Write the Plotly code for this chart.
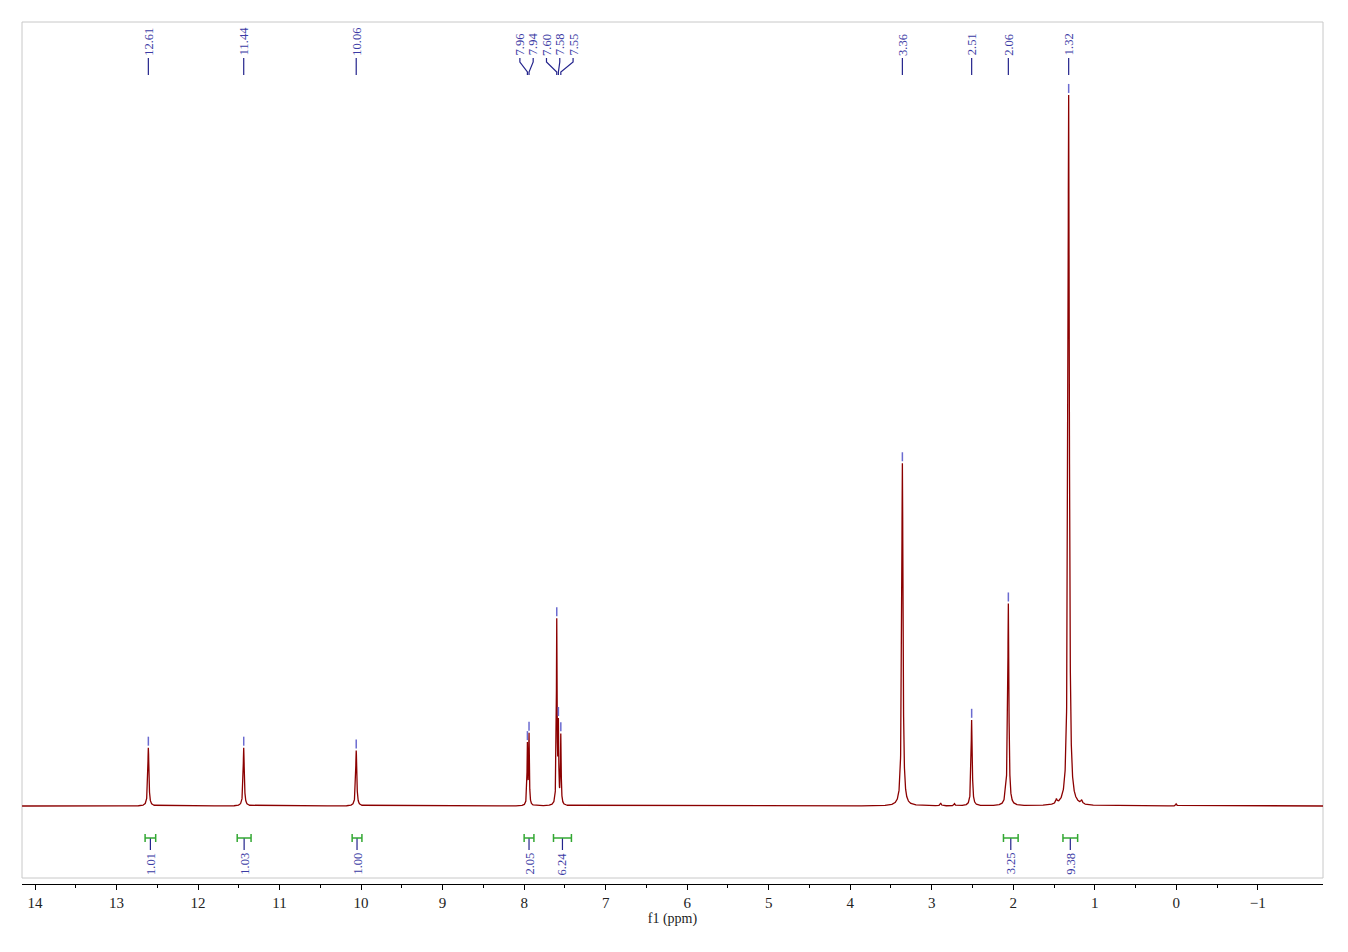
import numpy as np
import plotly.graph_objects as go

# ---------------- data ----------------
# peak list (ppm, relative height, half width at half max in ppm)
peak_ppm = [12.61, 11.44, 10.06, 7.96, 7.94, 7.60, 7.58, 7.55,
            3.36, 2.51, 2.09, 2.06, 1.32, 2.89, 2.72, 1.47, 1.16, 0.00]
peak_height = [0.082, 0.082, 0.078, 0.084, 0.098, 0.257, 0.106, 0.097,
               0.482, 0.121, 0.016, 0.283, 1.000, 0.004, 0.003, 0.006, 0.005, 0.003]
peak_width = [0.008, 0.008, 0.008, 0.005, 0.005, 0.005, 0.005, 0.005,
              0.009, 0.008, 0.010, 0.008, 0.010, 0.008, 0.008, 0.010, 0.010, 0.008]

# peak labels at top
label_ppm = [12.61, 11.44, 10.06, 7.96, 7.94, 7.60, 7.58, 7.55, 3.36, 2.51, 2.06, 1.32]
label_text = ["12.61", "11.44", "10.06", "7.96", "7.94", "7.60", "7.58", "7.55",
              "3.36", "2.51", "2.06", "1.32"]
group_members = [3, 4, 5, 6, 7]   # labels spread out (aromatic cluster)

# integrals
integral_start = [12.65, 11.52, 10.11, 8.00, 7.64, 2.12, 1.39]
integral_end = [12.52, 11.35, 9.99, 7.88, 7.42, 1.94, 1.21]
integral_value = ["1.01", "1.03", "1.00", "2.05", "6.24", "3.25", "9.38"]

x_ticks = list(range(14, -2, -1))
x_ticktext = [str(v) if v >= 0 else "\u2212" + str(-v) for v in x_ticks]

# ---------------- geometry helpers ----------------
OFF = 8                      # page body margin
W, H = 1332, 936
L, R, T, B = 22 - OFF, 1323 - OFF, 22 - OFF, 884 - OFF
BASE_PX = 806.0
SCALE = 711.0            # px per unit intensity
X_RANGE = [14.16, -1.80]
PX_PER_PPM = (R - L) / (X_RANGE[0] - X_RANGE[1])


def ydata(py):
    # py is a page pixel row of the reference
    return (BASE_PX - py) / SCALE


def yspan(px):
    return px / SCALE


y_range = [ydata(884), ydata(22)]

# ---------------- spectrum ----------------
x = np.arange(X_RANGE[1], X_RANGE[0], 0.0008)


def spectrum(xx):
    xx = np.asarray(xx, dtype=float)
    s = np.zeros_like(xx)
    for p, h, g in zip(peak_ppm, peak_height, peak_width):
        s += h / (1.0 + ((xx - p) / g) ** 2)
    return s


y = spectrum(x)

fig = go.Figure()
fig.add_trace(go.Scatter(x=x, y=y, mode="lines",
                         line=dict(color="#8b0000", width=1.3),
                         hoverinfo="skip", showlegend=False))

SERIF = "Liberation Serif, DejaVu Serif, serif"
BLUE_TXT = "#3b3ba5"
BLUE_LN = "#23238c"
BLUE_MK = "#6b6bd0"
GREEN = "#33a833"

# peak pick markers above peak tops
mx, my = [], []
for p in label_ppm:
    v = float(spectrum([p])[0])
    mx += [p, p, None]
    my += [v + yspan(2), v + yspan(11), None]
fig.add_trace(go.Scatter(x=mx, y=my, mode="lines", line=dict(color=BLUE_MK, width=1.5),
                         hoverinfo="skip", showlegend=False))

# top labels and connector lines
grp_center = np.mean([label_ppm[i] for i in group_members])
spacing = 13.3 / PX_PER_PPM
lx, ly = [], []
for i, (p, t) in enumerate(zip(label_ppm, label_text)):
    if i in group_members:
        k = group_members.index(i)
        tx = grp_center + (len(group_members) - 1) / 2 * spacing - k * spacing
        lx += [tx, tx, p, p, None]
        ly += [ydata(58), ydata(62), ydata(72), ydata(75), None]
    else:
        tx = p
        lx += [p, p, None]
        ly += [ydata(58), ydata(75), None]
    fig.add_annotation(x=tx, y=ydata(57.5), xref="x", yref="y", text=t, textangle=-90,
                       showarrow=False, xanchor="center", yanchor="bottom",
                       font=dict(family=SERIF, size=12.5, color=BLUE_TXT))
fig.add_trace(go.Scatter(x=lx, y=ly, mode="lines", line=dict(color=BLUE_LN, width=1.2),
                         hoverinfo="skip", showlegend=False))

# integrals
gx, gy, bx, by = [], [], [], []
for s0, s1, v in zip(integral_start, integral_end, integral_value):
    c = (s0 + s1) / 2
    gx += [s0, s1, None, s0, s0, None, s1, s1, None]
    gy += [ydata(838), ydata(838), None, ydata(834), ydata(842), None,
           ydata(834), ydata(842), None]
    bx += [c, c, None]
    by += [ydata(838), ydata(850), None]
    fig.add_annotation(x=c, y=ydata(850.5), xref="x", yref="y", text=v, textangle=-90,
                       showarrow=False, xanchor="center", yanchor="top",
                       font=dict(family=SERIF, size=12.5, color=BLUE_TXT))
fig.add_trace(go.Scatter(x=bx, y=by, mode="lines", line=dict(color=BLUE_LN, width=1.2),
                         hoverinfo="skip", showlegend=False))
fig.add_trace(go.Scatter(x=gx, y=gy, mode="lines", line=dict(color=GREEN, width=1.5),
                         hoverinfo="skip", showlegend=False))

# gray frame
fig.add_shape(type="rect", xref="paper", yref="paper", x0=0, x1=1,
              y0=(884 - 878) / (884 - 22), y1=1, line=dict(color="#c8c8c8", width=1),
              fillcolor="rgba(0,0,0,0)", layer="below")

fig.update_layout(
    width=W, height=H, autosize=False,
    margin=dict(l=L, r=W - R, t=T, b=H - B, pad=0),
    plot_bgcolor="white", paper_bgcolor="white",
    showlegend=False,
    xaxis=dict(range=X_RANGE, tickmode="array", tickvals=x_ticks, ticktext=x_ticktext,
               ticks="outside", ticklen=5, tickwidth=1, tickcolor="black",
               showline=True, linecolor="black", linewidth=1, showgrid=False,
               zeroline=False, tickfont=dict(family=SERIF, size=15, color="#222"),
               minor=dict(tickmode="array", tickvals=[v + 0.5 for v in x_ticks],
                          ticks="outside", ticklen=3, tickcolor="black", showgrid=False),
               title=dict(text="f1 (ppm)", font=dict(family=SERIF, size=14, color="#222"),
                          standoff=2)),
    yaxis=dict(range=y_range, visible=False, showgrid=False, zeroline=False),
)

fig.write_html("out.html")
